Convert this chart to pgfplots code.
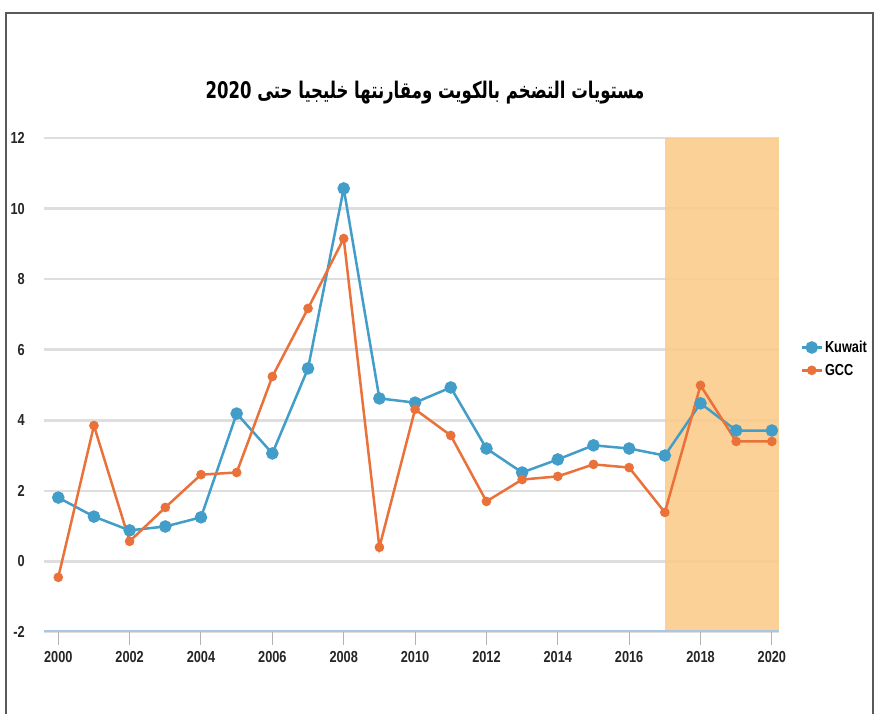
\documentclass[border=0pt]{standalone}
\usepackage{pgfplots}
\pgfplotsset{compat=1.18}
\usepackage{fontspec}
\setmainfont{Liberation Sans}
\newfontfamily\tickfont[FakeStretch=0.8]{Liberation Sans}
\newfontfamily\arabicfont[Script=Arabic]{DejaVu Sans}
\TeXXeTstate=1
\definecolor{kblue}{RGB}{66,158,200}
\definecolor{gorange}{RGB}{234,114,58}
\definecolor{shadecol}{RGB}{251,204,140}
\definecolor{gridc}{RGB}{222,222,222}
\definecolor{axblue}{RGB}{170,198,226}
\begin{document}
\begin{tikzpicture}[x=1bp,y=1bp]
\useasboundingbox (0,0) rectangle (874,714);
\fill[white] (0,0) rectangle (874,714);
\draw[gray!70!black, line width=1.5bp] (6,0) -- (6,701) -- (873,701) -- (873,0);
\node[font=\arabicfont\bfseries\fontsize{23}{27}\selectfont] at (425,621) {\scalebox{0.72}[1]{\beginR مستويات التضخم بالكويت ومقارنتها خليجيا حتى \beginL 2020\endL\endR}};
\begin{axis}[
  at={(44bp,82bp)}, anchor=south west,
  scale only axis, width=735bp, height=494bp,
  xmin=1999.6, xmax=2020.2, ymin=-2, ymax=12,
  xtick={2000,2002,...,2020}, ytick={-2,0,...,12},
  /pgf/number format/assume math mode=true,
  /pgf/number format/1000 sep={},
  ticklabel style={font=\tickfont\bfseries\fontsize{16}{18}\selectfont, text=black!85},
  xticklabel style={inner sep=0pt, anchor=north, yshift=-6bp},
  yticklabel style={inner sep=0pt, anchor=east, xshift=-6bp},
  axis line style={draw=none},
  ytick style={draw=none},
  xtick style={draw=gray!60, line width=1bp},
  tick align=outside, major tick length=13bp,
  xtick pos=bottom,
  ymajorgrids, grid style={gridc, line width=2.5bp},
  legend style={at={(1.029,0.553)}, anchor=west, draw=none, fill=none,
    font=\tickfont\bfseries\fontsize{16}{18}\selectfont, row sep=6bp, inner sep=0pt},
  legend cell align=left,
  legend image code/.code={\draw[mark repeat=2, mark phase=2, #1] plot coordinates {(0bp,0bp)(10bp,0bp)(20bp,0bp)};},
]
\fill[shadecol, fill opacity=0.9] (axis cs:2017,-2) rectangle (axis cs:2020.2,12);
\draw[axblue, line width=3bp] (axis cs:1999.6,-2) -- (axis cs:2020.2,-2);
\addplot[kblue, line width=2.5bp, mark=*, mark size=5bp, mark options={kblue}] coordinates {
(2000,1.81) (2001,1.27) (2002,0.88) (2003,0.99) (2004,1.25) (2005,4.19) (2006,3.06)
(2007,5.47) (2008,10.57) (2009,4.62) (2010,4.50) (2011,4.93) (2012,3.20) (2013,2.52)
(2014,2.89) (2015,3.29) (2016,3.20) (2017,3.00) (2018,4.48) (2019,3.71) (2020,3.71)};
\addlegendentry{Kuwait}
\addplot[gorange, line width=2.5bp, mark=*, mark size=3.5bp, mark options={gorange}] coordinates {
(2000,-0.45) (2001,3.85) (2002,0.57) (2003,1.53) (2004,2.46) (2005,2.52) (2006,5.24)
(2007,7.17) (2008,9.15) (2009,0.40) (2010,4.31) (2011,3.57) (2012,1.70) (2013,2.32)
(2014,2.41) (2015,2.75) (2016,2.66) (2017,1.39) (2018,4.99) (2019,3.40) (2020,3.40)};
\addlegendentry{GCC}
\end{axis}
\end{tikzpicture}
\end{document}
